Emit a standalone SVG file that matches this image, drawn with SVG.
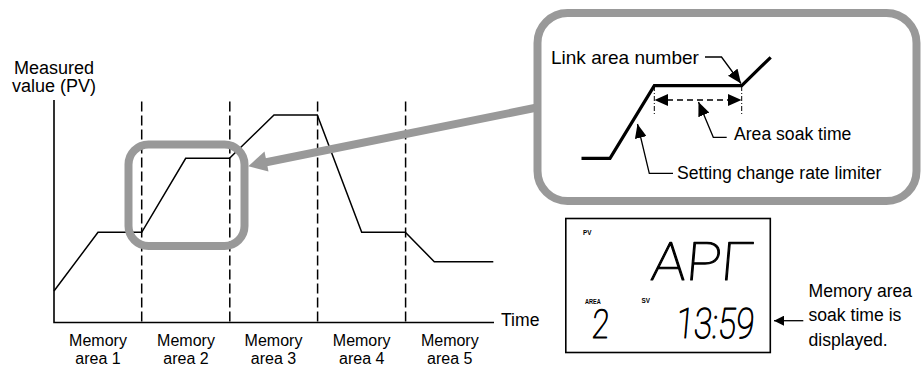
<svg xmlns="http://www.w3.org/2000/svg" width="922" height="367" viewBox="0 0 922 367">
<style>
text{font-family:"Liberation Sans",Arial,sans-serif;fill:#000}
.lbl{font-size:17.6px}
.mem{font-size:16px}
.ax{stroke:#000;stroke-width:1.6;fill:none}
.curve{stroke:#000;stroke-width:1.5;fill:none;stroke-linejoin:miter}
.div{stroke:#000;stroke-width:1.5;stroke-dasharray:10 4;fill:none}
.gray{stroke:#999;stroke-width:8;fill:none}
.thick{stroke:#000;stroke-width:3.2;fill:none}
.ptr{stroke:#000;stroke-width:1.3;fill:none}
.lcd{font-family:Roboto,"DejaVu Sans",sans-serif;font-weight:100;stroke:#000;stroke-width:1.1;stroke-linejoin:round}
.tiny{font-family:"Liberation Sans",Arial,sans-serif;font-weight:bold;font-size:8px}
</style>
<defs>
<marker id="ah" viewBox="0 0 10 10" refX="10" refY="5" markerWidth="10" markerHeight="10" markerUnits="userSpaceOnUse" orient="auto">
<path d="M0,0 L10,5 L0,10 z" fill="#000"/>
</marker>
<marker id="ahb" viewBox="0 0 14 12" refX="14" refY="6" markerWidth="14" markerHeight="12" markerUnits="userSpaceOnUse" orient="auto">
<path d="M0,0 L14,6 L0,12 z" fill="#000"/>
</marker>
</defs>

<g id="chart">
<path class="ax" d="M54,100 V322.5 H494"/>
<path class="div" d="M141.7,101.5 V322"/>
<path class="div" d="M229.8,101.5 V322"/>
<path class="div" d="M317.6,101.5 V322"/>
<path class="div" d="M405.6,101.5 V322"/>
<path class="curve" d="M54,291 L98,232.3 H141.7 L185.7,158.3 H229.5 L274,115 H317.3 L361.7,232.3 H405.3 L434.3,261.7 H493.3"/>
<text x="54" y="73.5" text-anchor="middle" font-size="18">Measured</text>
<text x="54" y="92" text-anchor="middle" font-size="18">value (PV)</text>
<text class="lbl" x="501" y="326">Time</text>
<g text-anchor="middle" class="mem">
<text x="98" y="345.5">Memory</text><text x="98" y="363.5">area 1</text>
<text x="186" y="345.5">Memory</text><text x="186" y="363.5">area 2</text>
<text x="273.5" y="345.5">Memory</text><text x="273.5" y="363.5">area 3</text>
<text x="361.7" y="345.5">Memory</text><text x="361.7" y="363.5">area 4</text>
<text x="449.8" y="345.5">Memory</text><text x="449.8" y="363.5">area 5</text>
</g>
</g>

<g id="focus">
<rect class="gray" x="128.5" y="144.5" width="116" height="101.5" rx="20"/>
</g>

<g id="connectors">
<path class="gray" d="M537,107.5 L265,162.5"/>
<path d="M248.3,166.2 L264.5,151.5 L268.5,171.5 z" fill="#999"/>
</g>

<g id="callout">
<rect class="gray" x="537.5" y="13" width="379" height="188" rx="30"/>
<path class="thick" d="M581.5,158.3 H610 L654.3,85.7 H741.7 L770.7,57.3"/>
<path d="M654.3,86 V116 M741.7,86 V116" stroke="#000" stroke-width="1" stroke-dasharray="5 2 1 2" fill="none"/>
<path d="M667,100 H729" stroke="#000" stroke-width="1.3" stroke-dasharray="6 4" fill="none"/>
<path d="M654.5,100 L668,94 L668,106 z M741.5,100 L728,94 L728,106 z" fill="#000"/>
<text x="551" y="64" font-size="19">Link area number</text>
<path class="ptr" d="M705,57 H721.5 L741,83.5" marker-end="url(#ahb)"/>
<path class="ptr" d="M726.7,137.3 H713.3 L698.5,102" marker-end="url(#ahb)"/>
<text class="lbl" x="734" y="140">Area soak time</text>
<path class="ptr" d="M673,173.3 H649.3 L637.5,124" marker-end="url(#ahb)"/>
<text class="lbl" x="677" y="178.5">Setting change rate limiter</text>
</g>

<g id="display">
<rect x="565.8" y="218.5" width="204.5" height="134" fill="none" stroke="#000" stroke-width="1.6"/>
<text class="tiny" x="583" y="235" transform="translate(583 235) scale(0.8 1) translate(-583 -235)">PV</text>
<text class="tiny" x="585" y="304" transform="translate(585 304) scale(0.7 1) translate(-585 -304)">AREA</text>
<text class="tiny" x="641.5" y="303" transform="translate(641.5 303) scale(0.8 1) translate(-641.5 -303)">SV</text>
<text class="lcd" x="650" y="280" font-size="53" textLength="102" lengthAdjust="spacingAndGlyphs" transform="translate(650 280) skewX(-5) translate(-650 -280)">APΓ</text>
<text class="lcd" x="591" y="338.5" font-size="40" textLength="17" lengthAdjust="spacingAndGlyphs" transform="translate(591 338) skewX(-5) translate(-591 -338)">2</text>
<text class="lcd" x="675" y="338.5" font-size="42" textLength="78" lengthAdjust="spacingAndGlyphs" transform="translate(675 338) skewX(-5) translate(-675 -338)">13:59</text>
</g>

<g id="note">
<path class="ptr" d="M803.3,320.7 H774" marker-end="url(#ah)"/>
<text class="lbl" x="808.5" y="296.5">Memory area</text>
<text class="lbl" x="808.5" y="321">soak time is</text>
<text class="lbl" x="808.5" y="345.5">displayed.</text>
</g>
</svg>
